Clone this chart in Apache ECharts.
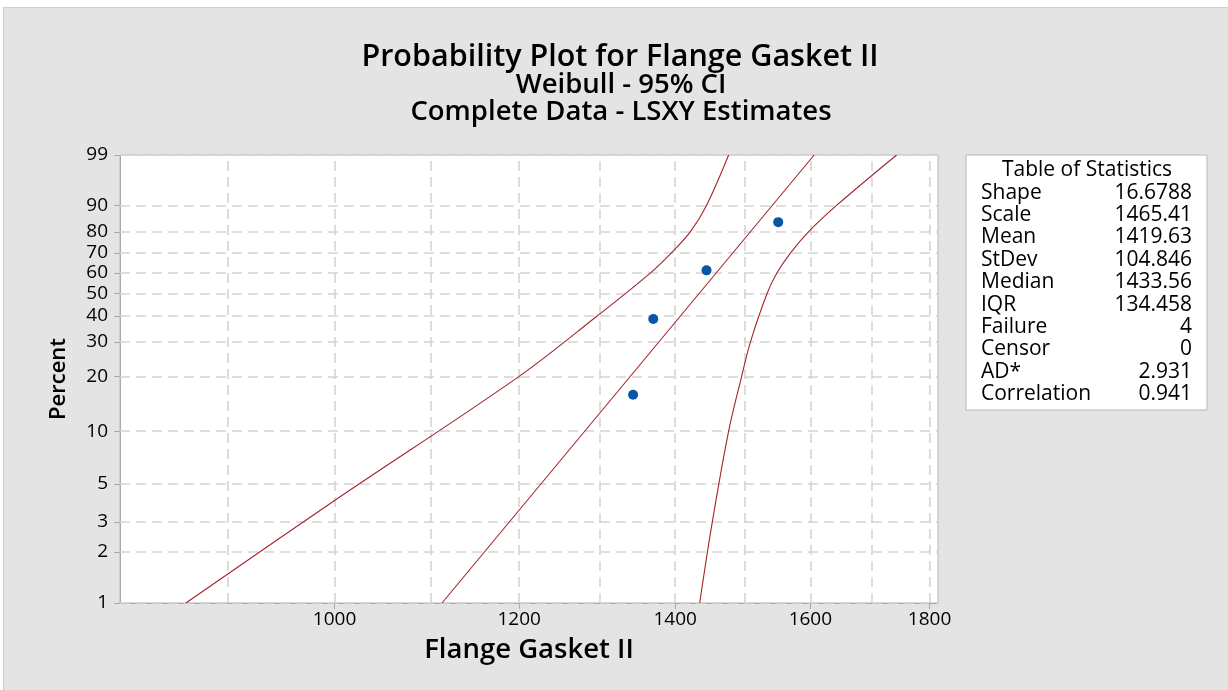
<!DOCTYPE html>
<html>
<head>
<meta charset="utf-8">
<script src="https://cdn.jsdelivr.net/npm/echarts@6/dist/echarts.min.js"></script>
<style>
  html, body { margin: 0; padding: 0; background: #ffffff; }
  #wrap { position: relative; width: 1228px; height: 690px; overflow: hidden; }
  #panel { position: absolute; left: 3px; top: 7px; right: 0; bottom: 0; background: #e4e4e4;
           border-left: 1px solid #cfcfcf; border-top: 1px solid #cfcfcf; }
  #chart { position: absolute; left: 0; top: 0; width: 1228px; height: 690px; }
</style>
</head>
<body>
<div id="wrap"><div id="panel"></div><div id="chart"></div></div>
<script>
// Probability-paper ticks
const percentTicks = [1, 2, 3, 5, 10, 20, 30, 40, 50, 60, 70, 80, 90, 99];
const gridValues = [900, 1000, 1100, 1200, 1300, 1400, 1500, 1600, 1700, 1800];
const labelValues = [1000, 1200, 1400, 1600, 1800];
const xRange = [809, 1815];

// Observed failures with median-rank plotting positions
const gasket = [1343, 1370, 1444, 1550];
const plotPercent = [15.91, 38.64, 61.36, 84.09];

// Fitted Weibull line end points
const fitValues = [1112, 1606];
const fitPercent = [1, 99];

// 95% confidence bounds
const upperValues = [863.4, 1000, 1200, 1296.5, 1366, 1394.4, 1421, 1443.8, 1475.9];
const upperPercent = [1, 4.0, 20, 40, 60, 70, 80, 90, 99];
const lowerValues = [1434.3, 1452.3, 1475.9, 1495, 1508, 1533, 1548, 1568.7, 1597, 1641.5, 1742.3];
const lowerPercent = [1, 3, 10, 20, 30, 50, 60, 70, 80, 90, 99];

// Table of statistics
const statNames = ['Shape', 'Scale', 'Mean', 'StDev', 'Median', 'IQR', 'Failure', 'Censor', 'AD*', 'Correlation'];
const statValues = ['16.6788', '1465.41', '1419.63', '104.846', '1433.56', '134.458', '4', '0', '2.931', '0.941'];

const FONT = '"Open Sans", "Noto Sans", sans-serif';

// Weibull paper: log time on x, log(-log(1-F)) on y
const tx = v => Math.log(v);
const ty = p => Math.log(-Math.log(1 - p / 100));
const pairs = (vals, pcts) => vals.map((v, i) => [tx(v), ty(pcts[i])]);
const labelLookup = (list, f) => value => {
  let best = 0;
  list.forEach((t, i) => { if (Math.abs(f(t) - value) < Math.abs(f(list[best]) - value)) best = i; });
  return String(list[best]);
};

const G = { left: 120, top: 155, width: 818, height: 448 };
const xMin = tx(xRange[0]), xMax = tx(xRange[1]);
const yMin = ty(percentTicks[0]), yMax = ty(percentTicks[percentTicks.length - 1]);

const gridDash = { color: '#d4d4d4', width: 1.6, type: [10, 6] };
const axisGrey = '#a9a9a9';
const curveColor = '#a3242a';

const graphics = [
  { type: 'text', style: { x: 620, y: 57, text: 'Probability Plot for Flange Gasket II', textAlign: 'center', textVerticalAlign: 'middle', font: '600 30.5px ' + FONT, fill: '#000' } },
  { type: 'text', style: { x: 621, y: 85, text: 'Weibull - 95% CI', textAlign: 'center', textVerticalAlign: 'middle', font: '600 27.5px ' + FONT, fill: '#000' } },
  { type: 'text', style: { x: 621, y: 112, text: 'Complete Data - LSXY Estimates', textAlign: 'center', textVerticalAlign: 'middle', font: '600 27.5px ' + FONT, fill: '#000' } },
  { type: 'rect', shape: { x: 966, y: 155, width: 241, height: 255 }, style: { fill: '#ffffff', stroke: '#b8b8b8', lineWidth: 1 } },
  { type: 'text', style: { x: 1087, y: 170, text: 'Table of Statistics', textAlign: 'center', textVerticalAlign: 'middle', font: '21px ' + FONT, fill: '#000' } }
];
statNames.forEach((name, i) => {
  const y = 192.7 + i * 22.37;
  graphics.push({ type: 'text', style: { x: 981, y: y, text: name, textAlign: 'left', textVerticalAlign: 'middle', font: '21px ' + FONT, fill: '#000' } });
  graphics.push({ type: 'text', style: { x: 1192, y: y, text: statValues[i], textAlign: 'right', textVerticalAlign: 'middle', font: '21px ' + FONT, fill: '#000' } });
});

const option = {
  animation: false,
  backgroundColor: 'transparent',
  grid: { left: G.left, top: G.top, width: G.width, height: G.height, show: true, backgroundColor: '#ffffff', borderColor: '#b8b8b8', borderWidth: 1, containLabel: false },
  graphic: graphics,
  xAxis: [
    {
      type: 'value', position: 'bottom', min: xMin, max: xMax,
      axisLine: { show: true, onZero: false, lineStyle: { color: axisGrey, width: 1 } },
      axisTick: { show: true, inside: true, length: G.height, customValues: gridValues.map(tx), lineStyle: gridDash },
      axisLabel: { show: false },
      splitLine: { show: false }
    },
    {
      type: 'value', position: 'bottom', min: xMin, max: xMax,
      axisLine: { show: false, onZero: false },
      axisTick: { show: true, length: 6, customValues: labelValues.map(tx), lineStyle: { color: axisGrey } },
      axisLabel: { customValues: labelValues.map(tx), formatter: labelLookup(labelValues, tx), fontSize: 19, fontFamily: FONT, color: '#000', margin: 7 },
      splitLine: { show: false },
      name: 'Flange Gasket II', nameLocation: 'middle', nameGap: 33,
      nameTextStyle: { fontSize: 27.5, fontWeight: 600, fontFamily: FONT, color: '#000' }
    }
  ],
  yAxis: [
    {
      type: 'value', position: 'left', min: yMin, max: yMax,
      axisLine: { show: true, onZero: false, lineStyle: { color: axisGrey, width: 1 } },
      axisTick: { show: true, inside: true, length: G.width, customValues: percentTicks.map(ty), lineStyle: gridDash },
      axisLabel: { show: false },
      splitLine: { show: false }
    },
    {
      type: 'value', position: 'left', min: yMin, max: yMax,
      axisLine: { show: false, onZero: false },
      axisTick: { show: true, length: 6, customValues: percentTicks.map(ty), lineStyle: { color: axisGrey } },
      axisLabel: { customValues: percentTicks.map(ty), formatter: labelLookup(percentTicks, ty), fontSize: 19, fontFamily: FONT, color: '#000', margin: 12 },
      splitLine: { show: false },
      name: 'Percent', nameLocation: 'middle', nameGap: 50, nameRotate: 90,
      nameTextStyle: { fontSize: 22, fontWeight: 600, fontFamily: FONT, color: '#000' }
    }
  ],
  series: [
    { type: 'line', name: 'Upper bound', data: pairs(upperValues, upperPercent), smooth: 0.35, showSymbol: false, lineStyle: { color: curveColor, width: 1.1 }, z: 3 },
    { type: 'line', name: 'Fit', data: pairs(fitValues, fitPercent), showSymbol: false, lineStyle: { color: curveColor, width: 1.1 }, z: 3 },
    { type: 'line', name: 'Lower bound', data: pairs(lowerValues, lowerPercent), smooth: 0.35, showSymbol: false, lineStyle: { color: curveColor, width: 1.1 }, z: 3 },
    { type: 'scatter', name: 'Flange Gasket II', data: pairs(gasket, plotPercent), symbol: 'circle', symbolSize: 10, itemStyle: { color: '#0a55a6', opacity: 1 }, z: 4 }
  ]
};

const chart = echarts.init(document.getElementById('chart'), null, { renderer: 'canvas' });
chart.setOption(option);
</script>
</body>
</html>
